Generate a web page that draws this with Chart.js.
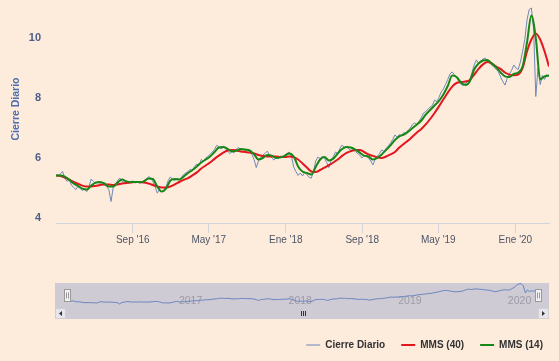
<!DOCTYPE html>
<html><head><meta charset="utf-8">
<script src="https://cdn.jsdelivr.net/npm/chart.js@4.4.1/dist/chart.umd.min.js"></script>
<style>
html,body{margin:0;padding:0;background:#fdebdc;overflow:hidden;width:559px;height:361px;}
#main{position:absolute;left:0;top:0;}
#nav{position:absolute;left:0;top:278px;}
</style></head><body>
<canvas id="main" width="559" height="361"></canvas>
<canvas id="nav" width="559" height="44"></canvas>
<script>
// ---------- data ----------
const startDate = '2016-01-01';
const closeStepDays = 7;
const mmsStepDays = 14;
const seriesNames = ['Cierre Diario', 'MMS (40)', 'MMS (14)'];
const yAxisTitle = 'Cierre Diario';

const closeValues = [
 5.42,5.40,5.47,5.55,5.33,5.22,5.28,5.10,5.02,4.95,
 5.05,4.98,4.92,4.96,4.88,5.05,5.30,5.22,5.15,5.20,
 5.12,5.18,5.10,5.05,4.95,4.55,5.02,5.12,5.25,5.33,
 5.22,5.18,5.22,5.15,5.20,5.24,5.17,5.22,5.14,5.20,
 5.25,5.30,5.37,5.35,5.22,5.05,4.83,4.95,4.87,4.92,
 5.05,5.25,5.37,5.28,5.25,5.32,5.28,5.35,5.45,5.50,
 5.55,5.62,5.58,5.72,5.80,5.76,5.95,5.88,6.00,6.05,
 6.12,6.20,6.28,6.42,6.38,6.30,6.36,6.33,6.22,6.15,
 6.22,6.18,6.30,6.35,6.26,6.30,6.24,6.28,6.20,6.12,
 5.95,5.68,5.90,6.02,6.10,6.15,6.23,6.10,6.00,5.93,
 6.02,5.98,6.07,6.03,6.10,6.15,6.20,6.05,5.70,5.55,
 5.42,5.50,5.40,5.52,5.45,5.35,5.33,5.55,5.90,6.03,
 5.98,6.05,6.00,5.85,5.68,5.92,6.05,6.20,6.15,6.32,
 6.43,6.35,6.38,6.30,6.25,6.28,6.22,6.15,6.10,6.00,
 6.08,6.05,6.00,5.90,5.77,5.95,6.05,6.15,6.27,6.22,
 6.32,6.40,6.50,6.62,6.77,6.70,6.78,6.75,6.85,6.80,
 6.93,7.00,7.12,7.17,7.10,7.22,7.35,7.50,7.55,7.62,
 7.70,7.75,7.93,7.88,8.02,8.20,8.30,8.45,8.62,8.80,
 8.87,8.78,8.70,8.55,8.45,8.42,8.48,8.55,8.62,8.85,
 9.10,9.27,9.15,9.22,9.30,9.33,9.25,9.18,9.10,9.02,
 8.95,8.88,8.70,8.55,8.43,8.65,8.80,8.92,9.10,9.00,
 8.95,9.20,9.55,9.95,10.60,10.95,11.00,10.30,8.05,9.00,
 8.45,8.75,8.62,8.78,8.70
];

const mms40Values = [
 5.42,5.40,5.35,5.28,5.20,5.14,5.08,5.05,5.05,5.07,
 5.10,5.12,5.12,5.10,5.12,5.15,5.17,5.18,5.20,5.20,
 5.18,5.15,5.10,5.05,5.02,5.02,5.05,5.12,5.20,5.27,
 5.33,5.42,5.52,5.65,5.75,5.85,5.97,6.08,6.18,6.25,
 6.27,6.25,6.22,6.20,6.18,6.15,6.10,6.07,6.05,6.05,
 6.05,6.03,6.03,6.05,6.03,5.95,5.82,5.68,5.55,5.53,
 5.60,5.68,5.76,5.85,5.95,6.07,6.17,6.23,6.27,6.27,
 6.20,6.12,6.07,6.02,6.00,6.05,6.12,6.20,6.35,6.47,
 6.58,6.72,6.85,6.97,7.12,7.30,7.50,7.72,7.95,8.18,
 8.38,8.50,8.53,8.55,8.60,8.78,8.97,9.12,9.20,9.15,
 9.05,8.97,8.85,8.78,8.76,8.78,9.00,9.55,9.95,10.15,
 9.95,9.55,9.05
];

const mms14Values = [
 5.42,5.42,5.38,5.28,5.15,5.07,4.98,4.95,5.08,5.18,
 5.20,5.15,5.05,5.05,5.18,5.28,5.22,5.20,5.20,5.20,
 5.22,5.32,5.30,5.05,4.88,4.98,5.25,5.30,5.28,5.38,
 5.50,5.60,5.72,5.85,5.95,6.05,6.20,6.35,6.37,6.30,
 6.22,6.25,6.30,6.28,6.25,6.12,5.95,6.00,6.10,6.08,
 6.00,6.02,6.08,6.15,6.05,5.72,5.55,5.50,5.45,5.70,
 5.95,6.03,5.92,5.98,6.15,6.30,6.37,6.35,6.28,6.18,
 6.08,6.05,5.95,6.00,6.12,6.27,6.42,6.60,6.72,6.78,
 6.88,7.00,7.12,7.25,7.45,7.60,7.75,7.90,8.12,8.40,
 8.75,8.70,8.52,8.43,8.55,8.95,9.15,9.25,9.27,9.15,
 9.02,8.85,8.72,8.70,8.80,8.85,9.05,9.85,10.75,10.00,
 8.62,8.72,8.75
];

const xTickDates = ['2016-09-01','2017-05-01','2018-01-01','2018-09-01','2019-05-01','2020-01-01'];
const xTickLabels = ["Sep '16","May '17","Ene '18","Sep '18","May '19","Ene '20"];
const yTickValues = [4, 6, 8, 10];
const navYearDates = ['2017-01-01','2018-01-01','2019-01-01','2020-01-01'];
const navYearLabels = ['2017','2018','2019','2020'];

// ---------- helpers ----------
const DAY = 86400000;
const t0 = Date.parse(startDate + 'T00:00:00Z');
const dayOf = d => Math.round((Date.parse(d + 'T00:00:00Z') - t0) / DAY);
const toPoints = (vals, step) => vals.map((v, i) => ({x: i * step, y: v}));
const X_MAX = 1568;
const FONT = "'Liberation Sans', Arial, sans-serif";
const C_CLOSE = '#6d88b7', C_RED = '#e3161d', C_GREEN = '#178717';

// y-axis title drawn rotated, centred like the reference
const yTitlePlugin = {
  id: 'yTitle',
  afterDraw(chart) {
    const ctx = chart.ctx;
    ctx.save();
    ctx.translate(16, 109);
    ctx.rotate(-Math.PI / 2);
    ctx.font = 'bold 10.5px ' + FONT;
    ctx.fillStyle = '#4d6db0';
    ctx.textAlign = 'center';
    ctx.textBaseline = 'middle';
    ctx.fillText(yAxisTitle, 0, 0);
    ctx.restore();
  }
};

// ---------- main chart ----------
new Chart(document.getElementById('main'), {
  type: 'line',
  data: { datasets: [
    {label: seriesNames[0], data: toPoints(closeValues, closeStepDays), borderColor: C_CLOSE, backgroundColor: C_CLOSE, borderWidth: 1, pointRadius: 0, tension: 0, order: 3},
    {label: seriesNames[1], data: toPoints(mms40Values, mmsStepDays), borderColor: C_RED, backgroundColor: C_RED, borderWidth: 2, pointRadius: 0, cubicInterpolationMode: 'monotone', order: 2},
    {label: seriesNames[2], data: toPoints(mms14Values, mmsStepDays), borderColor: C_GREEN, backgroundColor: C_GREEN, borderWidth: 2, pointRadius: 0, cubicInterpolationMode: 'monotone', order: 1}
  ]},
  options: {
    responsive: false, animation: false, events: [],
    layout: {padding: {left: 0, right: 0, top: 5, bottom: 1}},
    plugins: {
      tooltip: {enabled: false},
      legend: {
        position: 'bottom', align: 'end',
        labels: {
          usePointStyle: true, pointStyle: 'line', pointStyleWidth: 14, padding: 16,
          color: '#333333', font: {family: FONT, size: 10, weight: 'bold'},
          sort: (a, b) => a.datasetIndex - b.datasetIndex
        }
      }
    },
    scales: {
      x: {
        type: 'linear', min: 0, max: X_MAX,
        afterBuildTicks: s => { s.ticks = xTickDates.map(d => ({value: dayOf(d)})); },
        afterFit: s => { s.height = 101; },
        grid: {display: true, drawOnChartArea: false, drawTicks: true, tickLength: 10, tickColor: '#d3d3db'},
        border: {display: true, color: '#d3d3db', width: 1},
        ticks: {autoSkip: false, maxRotation: 0, minRotation: 0, padding: 1, color: '#4d5566',
          font: {family: FONT, size: 10}, callback: (v, i) => xTickLabels[i]}
      },
      y: {
        type: 'linear', position: 'left', min: 3.8333, max: 11.1,
        afterBuildTicks: s => { s.ticks = yTickValues.map(v => ({value: v})); },
        afterFit: s => { s.width = 56; },
        grid: {display: true, drawOnChartArea: false, drawTicks: true, tickLength: 15, tickColor: 'rgba(0,0,0,0)'},
        border: {display: false},
        ticks: {padding: 0, color: '#4e5f88', font: {family: FONT, size: 11, weight: 'bold', lineHeight: 0.9}},
        title: {display: false}
      },
      yR: {
        type: 'linear', position: 'right', display: true,
        afterFit: s => { s.width = 10; },
        grid: {display: false, drawTicks: false}, border: {display: false}, ticks: {display: false}
      }
    }
  },
  plugins: [yTitlePlugin]
});

// ---------- navigator ----------
const navDecor = {
  id: 'navDecor',
  beforeDraw(chart) {
    const ctx = chart.ctx;
    ctx.save();
    ctx.fillStyle = 'rgb(207,203,212)';
    ctx.fillRect(55, 5, 494, 36);
    const xs = chart.scales.x;
    ctx.font = '10.5px ' + FONT;
    ctx.fillStyle = '#9c9aa6';
    ctx.textBaseline = 'middle';
    ctx.textAlign = 'left';
    navYearDates.forEach((d, i) => {
      ctx.fillText(navYearLabels[i], xs.getPixelForValue(dayOf(d)) + 2, 23);
    });
    ctx.restore();
  },
  afterDraw(chart) {
    const ctx = chart.ctx;
    ctx.save();
    ctx.lineWidth = 1;
    [[55, 66], [538, 549]].forEach(([a, b], k) => {
      ctx.fillStyle = '#e6e6ea'; ctx.strokeStyle = '#cfcfd6';
      ctx.fillRect(a + 0.5, 30.5, b - a - 1, 10); ctx.strokeRect(a + 0.5, 30.5, b - a - 1, 10);
      const cx = (a + b) / 2, cy = 35.5;
      ctx.fillStyle = '#333';
      ctx.beginPath();
      if (k === 0) { ctx.moveTo(cx - 1.5, cy); ctx.lineTo(cx + 1.5, cy - 2.5); ctx.lineTo(cx + 1.5, cy + 2.5); }
      else { ctx.moveTo(cx + 1.5, cy); ctx.lineTo(cx - 1.5, cy - 2.5); ctx.lineTo(cx - 1.5, cy + 2.5); }
      ctx.closePath(); ctx.fill();
    });
    const gx = Math.round((chart.chartArea.left + chart.chartArea.right) / 2);
    ctx.strokeStyle = '#333';
    ctx.beginPath();
    [-2, 0, 2].forEach(o => { ctx.moveTo(gx + o + 0.5, 33); ctx.lineTo(gx + o + 0.5, 38); });
    ctx.stroke();
    [chart.chartArea.left, chart.chartArea.right].forEach(cx => {
      cx = Math.round(cx);
      ctx.fillStyle = '#f2f2f2'; ctx.strokeStyle = '#999';
      ctx.fillRect(cx - 2.5, 11.5, 6, 12); ctx.strokeRect(cx - 2.5, 11.5, 6, 12);
      ctx.beginPath();
      ctx.moveTo(cx - 0.5, 14.5); ctx.lineTo(cx - 0.5, 20.5);
      ctx.moveTo(cx + 1.5, 14.5); ctx.lineTo(cx + 1.5, 20.5);
      ctx.stroke();
    });
    ctx.restore();
  }
};

new Chart(document.getElementById('nav'), {
  type: 'line',
  data: { datasets: [
    {label: seriesNames[0], data: toPoints(closeValues, closeStepDays), borderColor: '#6a86bf', borderWidth: 1, pointRadius: 0, tension: 0}
  ]},
  options: {
    responsive: false, animation: false, events: [],
    layout: {padding: {left: 67, right: 21, top: 5, bottom: 14}},
    plugins: {legend: {display: false}, tooltip: {enabled: false}},
    scales: {
      x: {type: 'linear', min: 0, max: X_MAX, display: false},
      y: {type: 'linear', min: 3.3, max: 11.2, display: false}
    }
  },
  plugins: [navDecor]
});
</script>
</body></html>
